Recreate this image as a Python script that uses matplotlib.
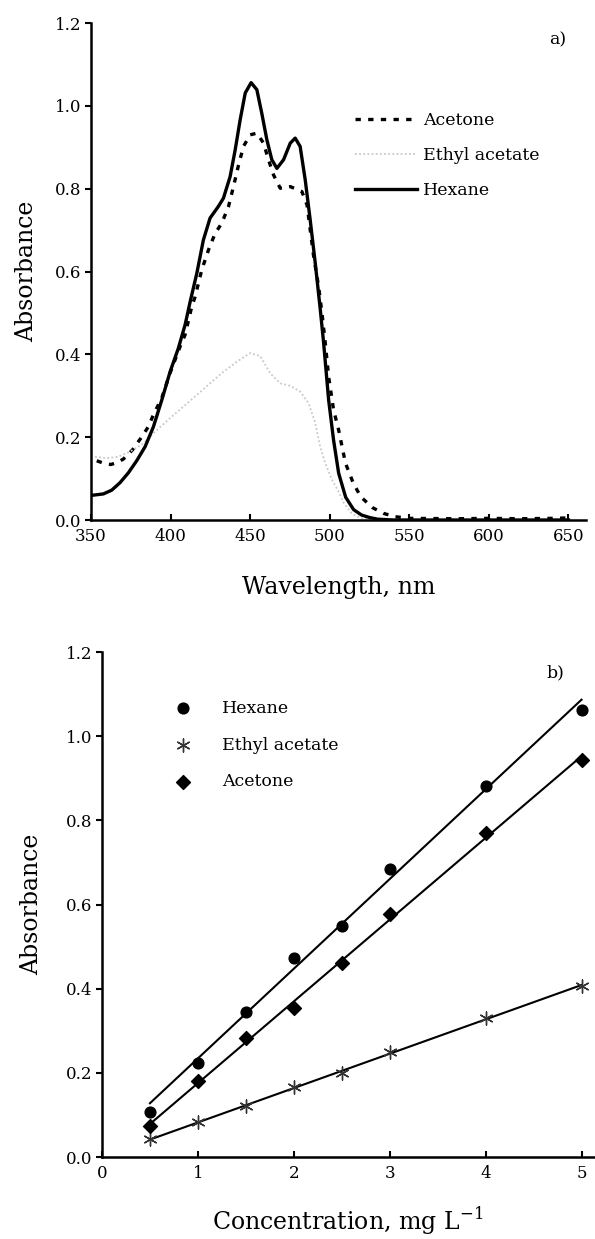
import numpy as np
import matplotlib.pyplot as plt

plt.rcParams['font.family'] = ['DejaVu Serif']

# ---- panel a: absorption spectra ----
wl_hex = [350, 351.5, 357.8, 363, 368.2, 373.5, 378.7, 384, 389.2, 394.5, 399.7, 404.9, 409.1,
          412.3, 416.5, 420.6, 424.8, 430, 433.2, 437.4, 440.6, 443.7, 446.9, 450.6, 454.2,
          457.3, 460.5, 463.6, 466.8, 471, 475.2, 478.3, 481.4, 484.6, 487.7, 490.9, 494,
          496.1, 499.3, 502.4, 505.6, 510, 515, 520, 525, 530, 540, 560, 600, 650]
abs_hex = [0.060, 0.060, 0.063, 0.072, 0.090, 0.114, 0.143, 0.177, 0.225, 0.290, 0.358, 0.415,
           0.471, 0.527, 0.596, 0.676, 0.729, 0.757, 0.777, 0.829, 0.894, 0.966, 1.031, 1.056,
           1.039, 0.982, 0.918, 0.870, 0.849, 0.870, 0.910, 0.922, 0.902, 0.821, 0.725, 0.620,
           0.510, 0.430, 0.290, 0.193, 0.113, 0.055, 0.025, 0.012, 0.006, 0.002, 0.0, 0.0,
           0.0, 0.0]

wl_ace = [353.6, 358, 362.4, 366, 370.3, 376, 381.2, 386, 389.2, 394.5, 399.7, 406, 409.1,
          411.2, 413.3, 415.4, 419.6, 423.8, 428, 432.2, 436.4, 439.5, 442.7, 445.8, 450,
          454.2, 458.4, 461.5, 464.7, 468.9, 475.2, 482.5, 485.7, 489.9, 493, 495.1, 497.2,
          499.3, 502.4, 505.6, 509.9, 514.8, 519.5, 526.8, 533.8, 541, 550, 580, 600, 620,
          640, 650]
abs_ace = [0.143, 0.137, 0.134, 0.138, 0.147, 0.169, 0.197, 0.225, 0.254, 0.295, 0.355, 0.419,
           0.447, 0.481, 0.515, 0.539, 0.604, 0.652, 0.692, 0.717, 0.757, 0.805, 0.857, 0.902,
           0.930, 0.934, 0.910, 0.870, 0.833, 0.801, 0.805, 0.793, 0.761, 0.636, 0.564, 0.500,
           0.427, 0.346, 0.266, 0.217, 0.137, 0.089, 0.056, 0.030, 0.016, 0.008, 0.004, 0.003,
           0.004, 0.003, 0.004, 0.005]

wl_eth = [352.5, 359.9, 367.2, 374.5, 382.9, 391.3, 399.7, 408.1, 416.5, 424.8, 433.2, 441.6,
          450, 456.3, 462.6, 468.9, 475.2, 481.4, 486.7, 490.9, 494, 497.2, 501.4, 505.6, 509,
          514, 520, 530, 560, 650]
abs_eth = [0.153, 0.149, 0.153, 0.165, 0.185, 0.217, 0.246, 0.274, 0.302, 0.330, 0.358, 0.382,
           0.403, 0.396, 0.354, 0.330, 0.324, 0.310, 0.282, 0.234, 0.177, 0.137, 0.097, 0.068,
           0.040, 0.015, 0.004, 0.0, 0.0, 0.0]

# ---- panel b: calibration ----
conc = [0.5, 1, 1.5, 2, 2.5, 3, 4, 5]
cal_hex = [0.108, 0.223, 0.345, 0.472, 0.550, 0.684, 0.882, 1.061]
cal_eth = [0.042, 0.082, 0.121, 0.166, 0.199, 0.250, 0.330, 0.406]
cal_ace = [0.074, 0.180, 0.282, 0.353, 0.460, 0.577, 0.769, 0.943]

yticks = [0.0, 0.2, 0.4, 0.6, 0.8, 1.0, 1.2]

fig = plt.figure(figsize=(5.95, 12.39), dpi=100)
ax1 = fig.add_axes([91 / 595, 719 / 1239, 495 / 595, 497 / 1239])
ax2 = fig.add_axes([102 / 595, 82 / 1239, 492 / 595, 505 / 1239])

ax1.plot(wl_ace, abs_ace, color='black', lw=2.4, linestyle=(0, (1.6, 2.2)),
         solid_joinstyle='round', label='Acetone')
ax1.plot(wl_eth, abs_eth, color='#c8c8c8', lw=1.3, linestyle=(0, (1, 1.3)), label='Ethyl acetate')
ax1.plot(wl_hex, abs_hex, color='black', lw=2.4, solid_joinstyle='round', label='Hexane')
ax1.set_xlim(350, 661)
ax1.set_ylim(0, 1.2)
ax1.set_xticks([350, 400, 450, 500, 550, 600, 650])
ax1.set_xlabel('Wavelength, nm', fontsize=17, labelpad=22)
ax1.text(643, 1.16, 'a)', fontsize=12.5, ha='center', va='center')
ax1.legend(loc='upper left', bbox_to_anchor=(0.533, 0.82), frameon=False, fontsize=12.5,
           handlelength=3.6, handletextpad=0.35, labelspacing=1.03, borderpad=0, borderaxespad=0)

ax2.scatter(conc, cal_hex, marker='o', s=60, color='black', zorder=3, label='Hexane')
ax2.scatter(conc, cal_eth, marker=(6, 2, 0), s=90, color='#333333', linewidths=1.0,
            zorder=3, label='Ethyl acetate')
ax2.scatter(conc, cal_ace, marker='D', s=50, color='black', zorder=3, label='Acetone')
for ys in (cal_hex, cal_eth, cal_ace):
    k, b = np.polyfit(conc, ys, 1)
    xx = np.array([conc[0], conc[-1]])
    ax2.plot(xx, k * xx + b, color='black', lw=1.5)
ax2.set_xlim(0, 5.13)
ax2.set_ylim(0, 1.2)
ax2.set_xticks([0, 1, 2, 3, 4, 5])
ax2.set_xlabel('Concentration, mg L$^{\\mathregular{-1}}$', fontsize=17, labelpad=17)
ax2.text(4.73, 1.15, 'b)', fontsize=12.5, ha='center', va='center')
ax2.legend(loc='upper left', bbox_to_anchor=(0.146, 0.905), frameon=False, fontsize=12.5,
           handlelength=1.0, handletextpad=1.8, labelspacing=1.13, borderpad=0, borderaxespad=0,
           scatterpoints=1)

for ax, lx in ((ax1, -0.107), (ax2, -0.12)):
    ax.set_yticks(yticks)
    ax.set_yticklabels(['%.1f' % v for v in yticks])
    ax.set_ylabel('Absorbance', fontsize=17)
    ax.yaxis.set_label_coords(lx, 0.5)
    ax.spines['top'].set_visible(False)
    ax.spines['right'].set_visible(False)
    ax.spines['left'].set_linewidth(1.8)
    ax.spines['bottom'].set_linewidth(1.8)
    ax.tick_params(axis='y', direction='out', length=4, width=1.5, labelsize=12, pad=3)
    ax.tick_params(axis='x', direction='in', length=4, width=1.5, labelsize=12, pad=6)

fig.savefig('out.png', dpi=100)
